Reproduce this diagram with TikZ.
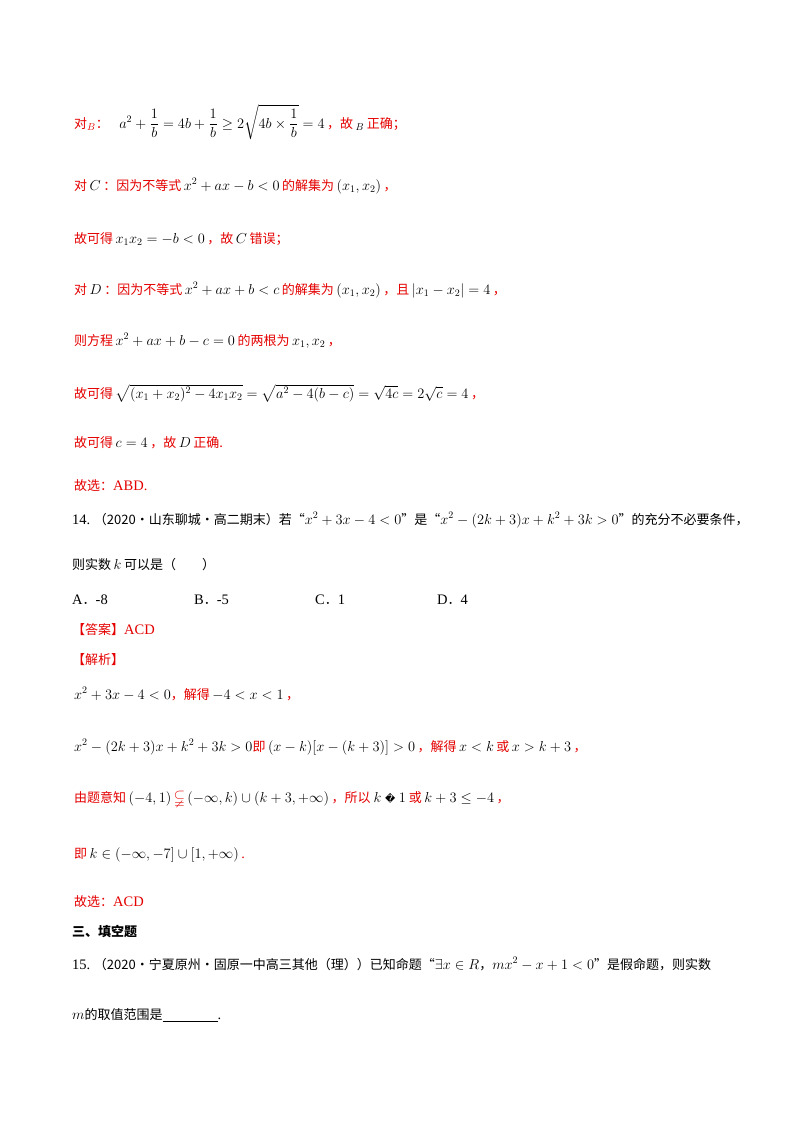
\documentclass[tikz,border=0pt]{standalone}
\usepackage{amsmath,amssymb}
\usepackage{fontspec}
\setmainfont{Liberation Serif}
\newfontfamily\cjk{Noto Sans CJK SC}
\begin{document}
\begin{tikzpicture}[x=1pt,y=-1pt,
  ln/.style={anchor=base west,inner sep=0pt,font=\fontsize{14.5}{16}\selectfont},
  rd/.style={ln,text=red!90!black}]
\useasboundingbox (0,0) rectangle (800,1132);
\fill[white] (0,0) rectangle (800,1132);
\newcommand{\zh}[1]{{\cjk\fontsize{13}{15}\selectfont #1}}
\newcommand{\mk}[1]{\hspace{2.5pt}\textcolor{black}{$#1$}\hspace{2.5pt}}
\node[rd] (l1) at (74,128) {\zh{对}$_{B}$\zh{：}\hspace{8pt}\mk{a^2+\dfrac1b=4b+\dfrac1b\ge 2\sqrt{4b\times\dfrac1b}=4}\zh{，故}\mk{_{B}}\zh{正确；}};
\node[rd] (l2) at (74,190) {\zh{对}\mk{C}\zh{：因为不等式}\mk{x^2+ax-b<0}\zh{的解集为}\mk{(x_1,x_2)}\zh{，}};
\node[rd] (l3) at (74,243) {\zh{故可得}\mk{x_1x_2=-b<0}\zh{，故}\mk{C}\zh{错误；}};
\node[rd] (l4) at (74,294) {\zh{对}\mk{D}\zh{：因为不等式}\mk{x^2+ax+b<c}\zh{的解集为}\mk{(x_1,x_2)}\zh{，且}\mk{|x_1-x_2|=4}\zh{，}};
\node[rd] (l5) at (74,345) {\zh{则方程}\mk{x^2+ax+b-c=0}\zh{的两根为}\mk{x_1,x_2}\zh{，}};
\node[rd] (l6) at (74,398) {\zh{故可得}\mk{\sqrt{(x_1+x_2)^2-4x_1x_2}=\sqrt{a^2-4(b-c)}=\sqrt{4c}=2\sqrt{c}=4}\zh{，}};
\node[rd] (l7) at (74,447) {\zh{故可得}\mk{c=4}\zh{，故}\mk{D}\zh{正确.}};
\node[rd] (l8) at (74,490) {\zh{故选：}ABD.};
\node[ln] (q14) at (72,524) {14.\ \zh{（2020·山东聊城·高二期末）若“}$x^2+3x-4<0$\zh{”是“}$x^2-(2k+3)x+k^2+3k>0$\zh{”的充分不必要条件，}};
\node[ln] (q14b) at (72,569) {\zh{则实数}\mk{k}\zh{可以是（\qquad）}};
\node[ln] (oA) at (72,604) {A\zh{．}-8};
\node[ln] (oB) at (194,604) {B\zh{．}-5};
\node[ln] (oC) at (315,604) {C\zh{．}1};
\node[ln] (oD) at (437,604) {D\zh{．}4};
\node[rd] (ans) at (72,634) {\zh{【答案】}ACD};
\node[rd] (jx) at (72,664) {\zh{【解析】}};
\node[rd] (s1) at (74,699) {\textcolor{black}{$x^2+3x-4<0$}\zh{，解得}\mk{-4<x<1}\zh{，}};
\node[rd] (s2) at (74,751) {\textcolor{black}{$x^2-(2k+3)x+k^2+3k>0$}\zh{即}\mk{(x-k)[x-(k+3)]>0}\zh{，解得}\mk{x<k}\zh{或}\mk{x>k+3}\zh{，}};
\node[rd] (s3) at (74,802) {\zh{由题意知}\mk{(-4,1)}{\Large$\subsetneqq$}\mk{(-\infty,k)\cup(k+3,+\infty)}\zh{，所以}\textcolor{black}{\hspace{3pt}$k$ {\fontspec{DejaVu Sans}\fontsize{10}{12}\selectfont\char"FFFD} $1$\hspace{3pt}}\zh{或}\mk{k+3\le-4}\zh{，}};
\node[rd] (s4) at (74,858) {\zh{即}\mk{k\in(-\infty,-7]\cup[1,+\infty)}.};
\node[rd] (s5) at (74,906) {\zh{故选：}ACD};
\node[ln] (sec) at (72,936) {{\cjk\bfseries\fontsize{13}{15}\selectfont 三、填空题}};
\node[ln] (q15) at (72,969) {15.\ \zh{（2020·宁夏原州·固原一中高三其他（理））已知命题“}$\exists x\in R$\zh{，}$mx^2-x+1<0$\zh{”是假命题，则实数}};
\node[ln] (q15b) at (72,1019) {$m$\zh{的取值范围是}\rule[-2pt]{55pt}{0.5pt}.};
\end{tikzpicture}
\end{document}
